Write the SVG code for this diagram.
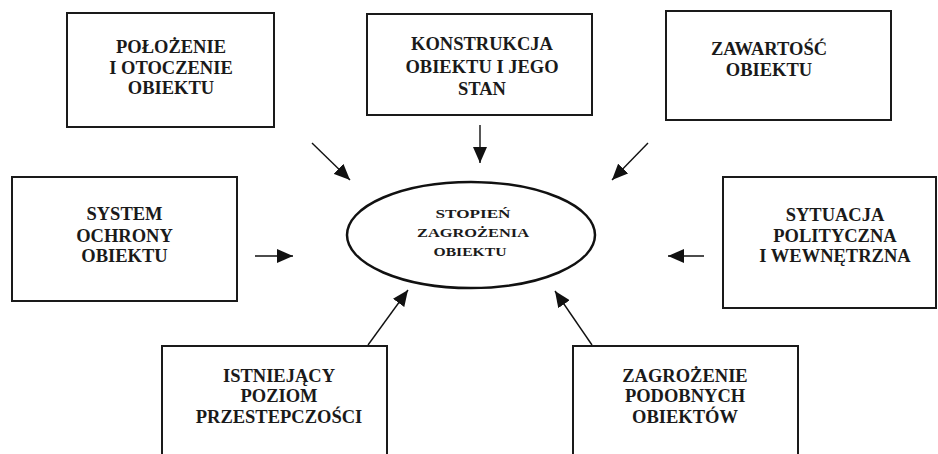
<svg xmlns="http://www.w3.org/2000/svg" width="938" height="454" viewBox="0 0 938 454">
<style>
.box{fill:#fff;stroke:#1a1a1a;stroke-width:2}
.ell{fill:#fff;stroke:#111;stroke-width:2.5}
text{font-family:'Liberation Serif','Times New Roman',Times,serif;font-weight:700;fill:#1a1a1a;text-anchor:middle}
.t{font-size:18.5px}
.te{font-size:13.5px}
.c{stroke:#111;stroke-width:1.4;fill:none}
</style>
<defs>
<marker id="ah" markerUnits="userSpaceOnUse" markerWidth="17" markerHeight="14" refX="16" refY="7" orient="auto">
<path d="M0,0 L16,7 L0,14 Z" fill="#111"/>
</marker>
</defs>
<rect width="938" height="454" fill="#fff"/>
<g id="connectors">
<line class="c" x1="312" y1="143" x2="350" y2="180" marker-end="url(#ah)"/>
<line class="c" x1="480" y1="125" x2="480" y2="163" marker-end="url(#ah)"/>
<line class="c" x1="648" y1="143" x2="612" y2="180" marker-end="url(#ah)"/>
<line class="c" x1="255" y1="256" x2="293" y2="256" marker-end="url(#ah)"/>
<line class="c" x1="704" y1="256" x2="668" y2="256" marker-end="url(#ah)"/>
<line class="c" x1="368" y1="345" x2="408" y2="290" marker-end="url(#ah)"/>
<line class="c" x1="592" y1="345" x2="555" y2="291" marker-end="url(#ah)"/>
</g>
<g id="polozenie">
<rect class="box" x="67" y="13" width="207" height="114"/>
<text class="t" x="171" y="53">POŁOŻENIE</text>
<text class="t" x="171" y="74">I OTOCZENIE</text>
<text class="t" x="171" y="94">OBIEKTU</text>
</g>
<g id="konstrukcja">
<rect class="box" x="367" y="14" width="225" height="101"/>
<text class="t" x="482" y="50">KONSTRUKCJA</text>
<text class="t" x="482" y="73">OBIEKTU I JEGO</text>
<text class="t" x="482" y="94.5">STAN</text>
</g>
<g id="zawartosc">
<rect class="box" x="666" y="11" width="225" height="109"/>
<text class="t" x="769" y="55">ZAWARTOŚĆ</text>
<text class="t" x="769" y="76">OBIEKTU</text>
</g>
<g id="system">
<rect class="box" x="12" y="177" width="225" height="124"/>
<text class="t" x="124.5" y="220">SYSTEM</text>
<text class="t" x="124.5" y="242">OCHRONY</text>
<text class="t" x="124.5" y="262">OBIEKTU</text>
</g>
<g id="stopien">
<ellipse class="ell" cx="471" cy="235" rx="124" ry="53"/>
<text class="te" x="473" y="218" textLength="75" lengthAdjust="spacingAndGlyphs">STOPIEŃ</text>
<text class="te" x="473" y="237" textLength="112" lengthAdjust="spacingAndGlyphs">ZAGROŻENIA</text>
<text class="te" x="470" y="256" textLength="73" lengthAdjust="spacingAndGlyphs">OBIEKTU</text>
</g>
<g id="sytuacja">
<rect class="box" x="723" y="177" width="213" height="131"/>
<text class="t" x="835" y="221">SYTUACJA</text>
<text class="t" x="835" y="242">POLITYCZNA</text>
<text class="t" x="835" y="262">I WEWNĘTRZNA</text>
</g>
<g id="istniejacy">
<rect class="box" x="162" y="346" width="225" height="120"/>
<text class="t" x="279" y="382">ISTNIEJĄCY</text>
<text class="t" x="279" y="402">POZIOM</text>
<text class="t" x="279" y="423">PRZESTEPCZOŚCI</text>
</g>
<g id="zagrozenie">
<rect class="box" x="573" y="346" width="225" height="120"/>
<text class="t" x="685" y="382">ZAGROŻENIE</text>
<text class="t" x="685" y="402">PODOBNYCH</text>
<text class="t" x="685" y="423">OBIEKTÓW</text>
</g>
</svg>
